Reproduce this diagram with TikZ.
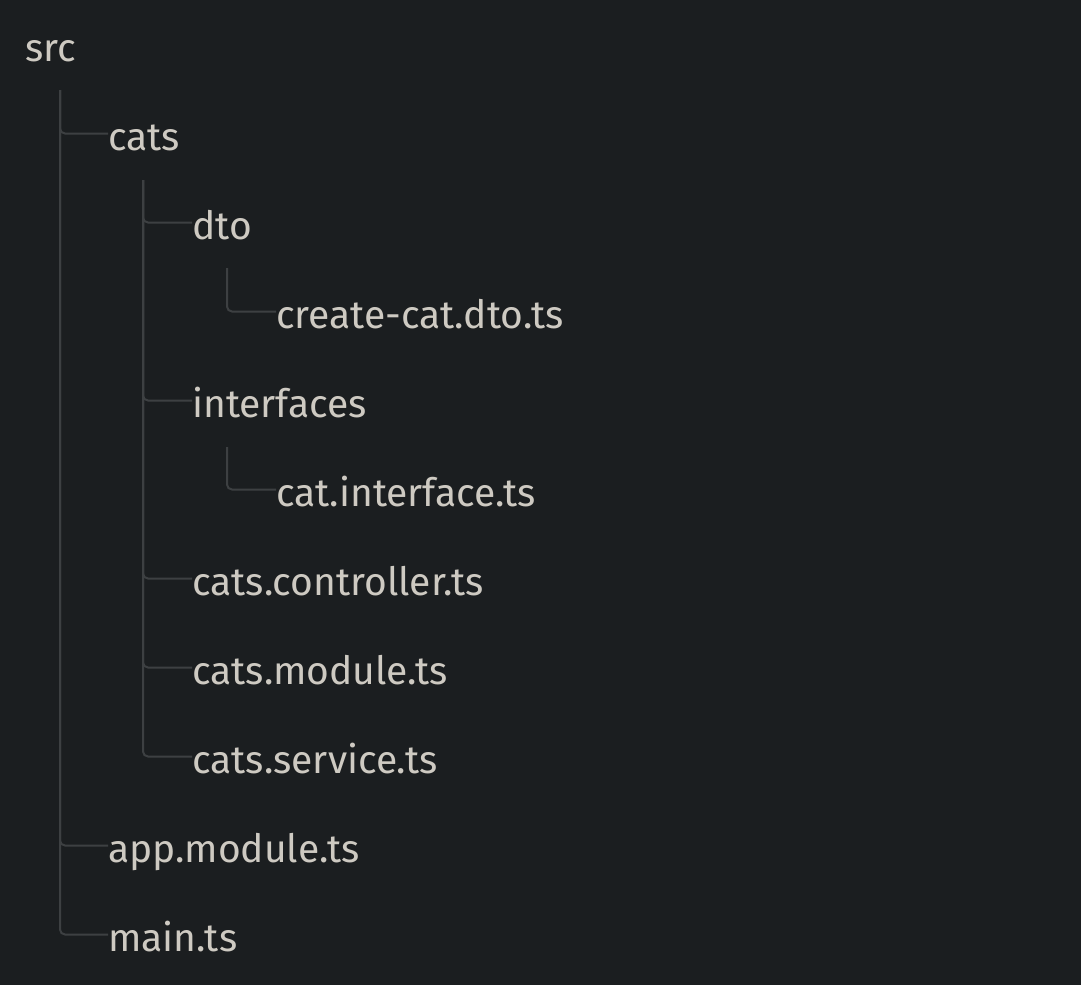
\documentclass[tikz,border=0pt]{standalone}
\usepackage{fontspec}
\setmainfont{Fira Sans}
\definecolor{bg}{HTML}{1B1E20}
\definecolor{txt}{HTML}{CECAC2}
\definecolor{ln}{HTML}{3D4042}
\begin{document}
\begin{tikzpicture}[x=1pt,y=-1pt,
  item/.style={anchor=base west,inner sep=0pt,text=txt,font=\fontsize{39}{41}\selectfont},
  tree/.style={draw=ln,line width=2pt,rounded corners=5pt}]
\fill[bg] (0,0) rectangle (1081,985);
\useasboundingbox (0,0) rectangle (1081,985);
\node[item] (src) at (25,61) {src};
\node[item] (cats) at (108,150) {cats};
\node[item] (dto) at (192,239) {dto};
\node[item] (create) at (276,328) {create-cat.dto.ts};
\node[item] (intf) at (192,417) {interfaces};
\node[item] (catif) at (276,506) {cat.interface.ts};
\node[item] (ctrl) at (192,595) {cats.controller.ts};
\node[item] (mod) at (192,684) {cats.module.ts};
\node[item] (svc) at (192,773) {cats.service.ts};
\node[item] (app) at (108,862) {app.module.ts};
\node[item] (main) at (108,951) {main.ts};
\coordinate (t-src) at (60,90);
\coordinate (t-cats) at (143,180);
\coordinate (t-dto) at (227,268);
\coordinate (t-intf) at (227,447);
\foreach \p/\c in {src/cats,src/app,src/main,cats/dto,cats/intf,cats/ctrl,cats/mod,cats/svc,dto/create,intf/catif}
  \draw[tree] (t-\p) |- ([yshift=16.5pt]\c.base west);
\end{tikzpicture}
\end{document}
